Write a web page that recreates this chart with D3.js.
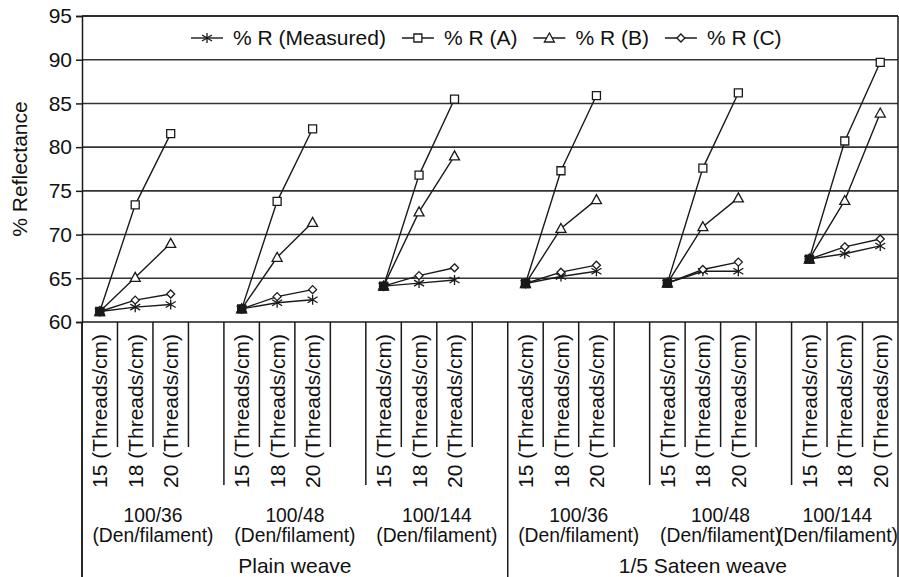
<!DOCTYPE html>
<html>
<head>
<meta charset="utf-8">
<script src="https://cdn.jsdelivr.net/npm/d3@7"></script>
<style>
  body { margin: 0; background: #fff; }
  text { font-family: "Liberation Sans", Arial, sans-serif; fill: #111; }
</style>
</head>
<body>
<div id="chart"></div>
<script>
// Category levels
const weaves = ["Plain weave", "1/5 Sateen weave"];
const yarns = ["100/36", "100/48", "100/144"];
const yarnUnit = "(Den/filament)";
const densities = ["15", "18", "20"];
const densityUnit = "(Threads/cm)";

// % reflectance, ordered weave > yarn > density
const measured = [61.2, 61.7, 62.0, 61.5, 62.2, 62.55, 64.1, 64.45, 64.8, 64.4, 65.2, 65.8, 64.45, 65.8, 65.8, 67.2, 67.8, 68.7];
const rA = [61.2, 73.4, 81.55, 61.5, 73.8, 82.1, 64.1, 76.8, 85.5, 64.4, 77.3, 85.9, 64.45, 77.6, 86.2, 67.2, 80.7, 89.7];
const rB = [61.2, 65.1, 69.0, 61.5, 67.4, 71.4, 64.1, 72.6, 79.0, 64.4, 70.7, 74.0, 64.45, 70.9, 74.2, 67.2, 73.9, 83.9];
const rC = [61.2, 62.5, 63.2, 61.5, 62.9, 63.7, 64.1, 65.3, 66.2, 64.4, 65.7, 66.5, 64.45, 66.0, 66.85, 67.2, 68.6, 69.5];
const seriesNames = ["% R (Measured)", "% R (A)", "% R (B)", "% R (C)"];
const yTicks = [60, 65, 70, 75, 80, 85, 90, 95];

const drawChart = () => {

  // ------ Drawing area ------ //
  const width = 899;
  const height = 577;
  const margin = {top: 16, right: 1, bottom: 255, left: 82};
  const ink = "#1a1a1a";
  const fontSize = 21;
  const smallFont = 19.3;

  const svg = d3.select("#chart")
    .append("svg")
    .attr("width", width)
    .attr("height", height)
    .attr("viewBox", [0, 0, width, height]);

  // ------ Categories (with an empty slot between yarn groups) ------ //
  const groups = [];
  weaves.forEach((w, wi) => yarns.forEach((y, yi) => groups.push({weave: w, yarn: y, key: `${wi}-${yi}`})));
  const cats = [];
  groups.forEach((g, gi) => {
    densities.forEach(d => cats.push({key: `${g.key}-${d}`, group: g, density: d}));
    if (gi < groups.length - 1) cats.push({key: `${g.key}-gap`, group: g, density: null});
  });

  // ------ Scales ------ //
  const xScale = d3.scaleBand()
    .domain(cats.map(c => c.key))
    .range([margin.left, width - margin.right]);
  const yScale = d3.scaleLinear()
    .domain([60, 95])
    .range([height - margin.bottom, margin.top]);
  const xc = key => xScale(key) + xScale.bandwidth() / 2;
  const plotBottom = yScale(60);

  // ------ Gridlines and frame ------ //
  svg.append("g")
    .selectAll("line")
    .data(yTicks.slice(1))
    .join("line")
      .attr("x1", margin.left)
      .attr("x2", width - margin.right)
      .attr("y1", d => yScale(d))
      .attr("y2", d => yScale(d))
      .attr("stroke", "#333")
      .attr("stroke-width", 1.6);

  // Left axis
  const leftAxis = d3.axisLeft(yScale)
    .tickValues(yTicks)
    .tickSize(6)
    .tickPadding(4);
  const axisY = svg.append("g")
    .attr("transform", `translate(${margin.left}, 0)`)
    .call(leftAxis);
  axisY.selectAll("path, line").attr("stroke", ink).attr("stroke-width", 1.5);
  axisY.selectAll("text")
    .style("font-family", "'Liberation Sans', Arial, sans-serif")
    .style("font-size", `${fontSize}px`)
    .attr("fill", ink);

  svg.append("text")
    .text("% Reflectance")
    .attr("transform", `translate(20, ${(margin.top + plotBottom) / 2}) rotate(-90)`)
    .attr("text-anchor", "middle")
    .attr("dy", "0.35em")
    .style("font-size", `${fontSize}px`);

  // ------ Multi-level category axis ------ //
  const axisX = svg.append("g");
  axisX.append("line")
    .attr("x1", margin.left).attr("x2", width - margin.right)
    .attr("y1", plotBottom).attr("y2", plotBottom)
    .attr("stroke", ink).attr("stroke-width", 1.5);

  // Separators: short inside a yarn group, longer between yarn groups, full between weaves
  const seps = cats.map((c, i) => {
    const prev = cats[i - 1];
    let y2 = 447;
    if (!prev || prev.group.weave !== c.group.weave) y2 = height;
    else if (prev.group !== c.group) y2 = 485;
    return {x: xScale(c.key), y1: plotBottom, y2};
  });
  seps.push({x: width - margin.right, y1: margin.top, y2: height});
  seps.push({x: margin.left, y1: plotBottom, y2: height});
  axisX.selectAll("line.sep")
    .data(seps)
    .join("line")
      .attr("class", "sep")
      .attr("x1", d => d.x).attr("x2", d => d.x)
      .attr("y1", d => d.y1).attr("y2", d => d.y2)
      .attr("stroke", ink)
      .attr("stroke-width", 1.5);

  // Top frame line
  axisX.append("line")
    .attr("x1", margin.left).attr("x2", width - margin.right)
    .attr("y1", margin.top).attr("y2", margin.top)
    .attr("stroke", ink).attr("stroke-width", 1.5);

  // Density labels (rotated)
  axisX.selectAll("text.density")
    .data(cats.filter(c => c.density))
    .join("text")
      .attr("class", "density")
      .text(d => `${d.density} ${densityUnit}`)
      .attr("transform", d => `translate(${xc(d.key)}, 488) rotate(-90)`)
      .attr("dy", "0.36em")
      .style("font-size", `${fontSize}px`);

  // Yarn labels, kept inside the right frame
  const groupSpan = g => {
    const ks = cats.filter(c => c.group === g).map(c => c.key);
    return [xScale(ks[0]), xScale(ks[ks.length - 1]) + xScale.bandwidth()];
  };
  const yarnLabels = axisX.selectAll("g.yarn")
    .data(groups)
    .join("g")
      .attr("class", "yarn");
  yarnLabels.append("text")
    .text(d => d.yarn)
    .attr("y", 522)
    .attr("text-anchor", "middle")
    .style("font-size", `${smallFont}px`);
  yarnLabels.append("text")
    .text(yarnUnit)
    .attr("y", 542)
    .attr("text-anchor", "middle")
    .style("font-size", `${smallFont}px`);
  yarnLabels.attr("transform", function(d) {
    const [a, b] = groupSpan(d);
    const w = d3.max(d3.select(this).selectAll("text").nodes(), n => n.getComputedTextLength());
    const cx = Math.min((a + b) / 2, width - margin.right - w / 2);
    return `translate(${cx}, 0)`;
  });

  // Weave labels
  axisX.selectAll("text.weave")
    .data(weaves)
    .join("text")
      .attr("class", "weave")
      .text(d => d)
      .attr("x", d => {
        const gs = groups.filter(g => g.weave === d);
        return (groupSpan(gs[0])[0] + groupSpan(gs[gs.length - 1])[1]) / 2;
      })
      .attr("y", 573)
      .attr("text-anchor", "middle")
      .style("font-size", `${fontSize}px`);

  // ------ Series ------ //
  const markers = [
    "M0,-5V5M-5,-3L5,3M-5,3L5,-3",
    "M-4,-4H4V4H-4Z",
    "M0,-5L5,4H-5Z",
    "M0,-4L4,0L0,4L-4,0Z"
  ];
  const seriesValues = [measured, rA, rB, rC];
  const series = seriesValues.map((vals, si) => ({
    name: seriesNames[si],
    marker: markers[si],
    points: vals.map((v, i) => ({
      value: v,
      group: groups[Math.floor(i / densities.length)],
      density: densities[i % densities.length]
    }))
  }));

  const lineGenerator = d3.line()
    .x(d => xc(`${d.group.key}-${d.density}`))
    .y(d => yScale(d.value));

  series.forEach(s => {
    const g = svg.append("g");
    groups.forEach(grp => {
      g.append("path")
        .attr("d", lineGenerator(s.points.filter(p => p.group === grp)))
        .attr("fill", "none")
        .attr("stroke", ink)
        .attr("stroke-width", 1.4);
    });
  });
  series.forEach(s => {
    svg.append("g")
      .selectAll("path")
      .data(s.points)
      .join("path")
        .attr("d", s.marker)
        .attr("transform", d => `translate(${xc(`${d.group.key}-${d.density}`)}, ${yScale(d.value)})`)
        .attr("fill", d => d.density === densities[0] ? ink : "#fff")
        .attr("stroke", ink)
        .attr("stroke-width", 1.3);
  });

  // ------ Legend ------ //
  const legend = svg.append("g").attr("transform", "translate(191, 38)");
  let lx = 0;
  series.forEach(s => {
    const item = legend.append("g").attr("transform", `translate(${lx}, 0)`);
    item.append("line")
      .attr("x1", 0).attr("x2", 32)
      .attr("stroke", ink).attr("stroke-width", 1.4);
    item.append("path")
      .attr("d", s.marker)
      .attr("transform", "translate(16, 0)")
      .attr("fill", "#fff")
      .attr("stroke", ink)
      .attr("stroke-width", 1.3);
    const t = item.append("text")
      .text(s.name)
      .attr("x", 42)
      .attr("dy", "0.35em")
      .style("font-size", `${fontSize}px`);
    lx += 42 + t.node().getComputedTextLength() + 16;
  });
};

drawChart();
</script>
</body>
</html>
